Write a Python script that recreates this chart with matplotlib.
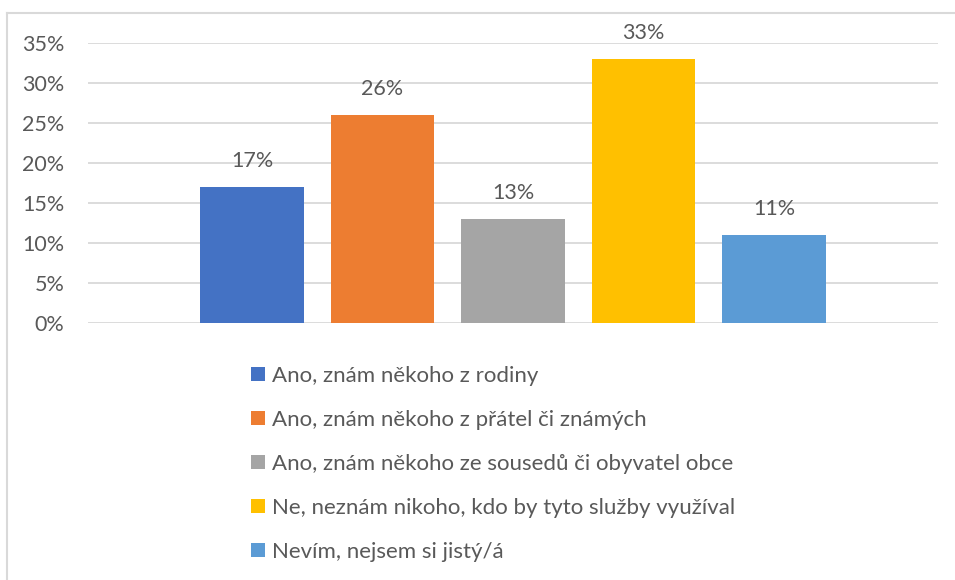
import matplotlib
matplotlib.use("Agg")
import matplotlib.pyplot as plt
from matplotlib.patches import Patch
from matplotlib.lines import Line2D
from matplotlib.ticker import FuncFormatter

plt.rcParams['font.family'] = ['Lato', 'DejaVu Sans']

categories = [
    "Ano, znám někoho z rodiny",
    "Ano, znám někoho z přátel či známých",
    "Ano, znám někoho ze sousedů či obyvatel obce",
    "Ne, neznám nikoho, kdo by tyto služby využíval",
    "Nevím, nejsem si jistý/á",
]
values = [0.17, 0.26, 0.13, 0.33, 0.11]
colors = ["#4472C4", "#ED7D31", "#A5A5A5", "#FFC000", "#5B9BD5"]
yticks = [0, 0.05, 0.10, 0.15, 0.20, 0.25, 0.30, 0.35]

W, H = 955, 580
fig = plt.figure(figsize=(W / 100, H / 100), dpi=100)
ax = fig.add_axes([88 / W, (H - 323) / H, 850 / W, 280 / H])

x = list(range(len(values)))
bars = ax.bar(x, values, width=0.79, color=colors, zorder=3)
for xi, v in zip(x, values):
    ax.annotate(f"{round(v * 100)}%", (xi, v), xytext=(0, 19), textcoords="offset points",
                ha="center", va="center", fontsize=15.5, color="#595959")

ax.set_xlim(-1.257, 5.257)
ax.set_ylim(0, 0.35)
ax.set_yticks(yticks)
ax.yaxis.set_major_formatter(FuncFormatter(lambda v, p: f"{round(v * 100)}%"))
ax.tick_params(axis='y', length=0, labelsize=15.5, labelcolor="#595959", pad=17)
ax.set_xticks([])
for s in ax.spines.values():
    s.set_visible(False)
ax.grid(axis='y', color="#D9D9D9", linewidth=1.3, zorder=0)
ax.set_axisbelow(True)

handles = [Patch(facecolor=c, edgecolor='none') for c in colors]
fig.legend(handles, categories, loc="upper left", bbox_to_anchor=(251 / W, 1 - 366 / H),
           frameon=False, fontsize=16, labelcolor="#595959", handlelength=0.63, handleheight=0.63,
           handletextpad=0.3, labelspacing=1.08, borderaxespad=0, borderpad=0)

# outer chart border (light gray)
fig.add_artist(Line2D([7 / W, 1], [1 - 13 / H, 1 - 13 / H], transform=fig.transFigure,
                      color="#D9D9D9", linewidth=1.5))
fig.add_artist(Line2D([7 / W, 7 / W], [0, 1 - 13 / H], transform=fig.transFigure,
                      color="#D9D9D9", linewidth=1.5))

fig.savefig("out.png", dpi=100, facecolor="white")
